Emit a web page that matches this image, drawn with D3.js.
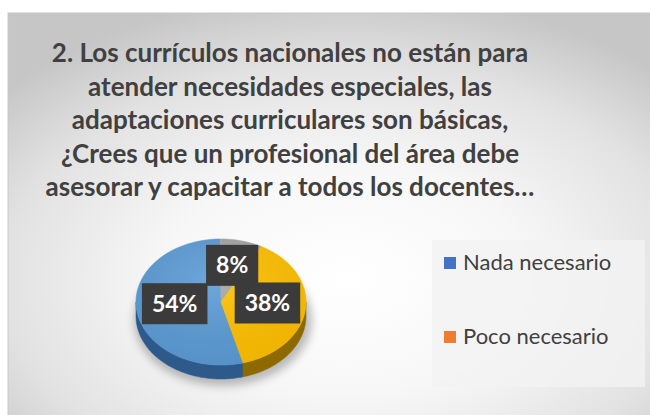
<!DOCTYPE html>
<html><head><meta charset="utf-8">
<script src="https://cdn.jsdelivr.net/npm/d3@7"></script>
<style>html,body{margin:0;padding:0;background:#fff;}svg{display:block;}</style>
</head><body>
<svg id="c" width="650" height="415"></svg>
<script>
const titleLines = [
  "2. Los currículos nacionales no están para",
  "atender necesidades especiales, las",
  "adaptaciones curriculares son básicas,",
  "¿Crees que un profesional del área debe",
  "asesorar y capacitar a todos los docentes…"
];
const categories = ["Nada necesario", "Poco necesario", "Necesario", "Muy necesario"];
const values = [54, 0, 8, 38];
const legendShown = ["Nada necesario", "Poco necesario"];
const topColors = ["#5b9bd5", "#ed7d31", "#a5a5a5", "#ffc000"];
const sideColors = ["#2d5a8a", "#8a4515", "#606060", "#8c6a00"];
const legendColors = ["#4472c4", "#ed7d31", "#a5a5a5", "#ffc000"];

const svg = d3.select("#c");
const defs = svg.append("defs");
const bg = defs.append("radialGradient").attr("id","bg").attr("cx","0.52").attr("cy","0.65").attr("r","0.7");
bg.append("stop").attr("offset","0").attr("stop-color","#ffffff");
bg.append("stop").attr("offset","0.4").attr("stop-color","#f7f7f7");
bg.append("stop").attr("offset","0.75").attr("stop-color","#e2e2e2");
bg.append("stop").attr("offset","1").attr("stop-color","#c6c6c6");
const sh = defs.append("filter").attr("id","sh").attr("x","-30%").attr("y","-30%").attr("width","160%").attr("height","160%");
sh.append("feGaussianBlur").attr("stdDeviation","4");

svg.append("rect").attr("x",8).attr("y",13).attr("width",650).attr("height",410).attr("fill","url(#bg)")
  .attr("stroke","#c8c8c8").attr("stroke-width",1);

// Title
const title = svg.append("text").attr("text-anchor","middle")
  .attr("font-family","Lato, 'Open Sans', sans-serif").attr("font-weight","bold")
  .attr("font-size",26).attr("fill","#404040");
titleLines.forEach((t,i)=>{
  title.append("tspan").attr("x",290).attr("y",62 + i*33.6).text(t);
});

// Pie
const cx = 221, cy = 302, rx = 85, ry = 63, depth = 14;
const deg = Math.PI/180;
const pie = d3.pie().sort(null).value(d=>d.v).startAngle(165*deg).endAngle(525*deg);
const data = categories.map((c,i)=>({c, v: values[i], i}));
const arcs = pie(data).filter(a=>a.data.v>0);
const px = a => cx + rx*Math.sin(a);
const py = (a, dz=0) => cy - ry*Math.cos(a) + dz;

// shadow
svg.append("ellipse").attr("cx",cx+2).attr("cy",cy+depth+4).attr("rx",rx+4).attr("ry",ry+3)
  .attr("fill","rgba(0,0,0,0.25)").attr("filter","url(#sh)");

function sample(a0,a1){
  const n = Math.max(2, Math.ceil(Math.abs(a1-a0)/(1*deg)));
  return d3.range(n+1).map(k=>a0+(a1-a0)*k/n);
}
const sideG = svg.append("g");
arcs.forEach(a=>{
  [[90*deg,270*deg],[450*deg,630*deg]].forEach(([f0,f1])=>{
    const s = Math.max(a.startAngle,f0), e = Math.min(a.endAngle,f1);
    if (e <= s) return;
    const pts = sample(s,e);
    const top = pts.map(t=>[px(t),py(t)]);
    const bot = pts.slice().reverse().map(t=>[px(t),py(t,depth)]);
    sideG.append("path").attr("d", d3.line()(top.concat(bot))+"Z")
      .attr("fill", sideColors[a.data.i]).attr("stroke",sideColors[a.data.i]).attr("stroke-width",0.5);
  });
});
const topG = svg.append("g");
arcs.forEach(a=>{
  const pts = sample(a.startAngle,a.endAngle).map(t=>[px(t),py(t)]);
  topG.append("path").attr("d", d3.line()([[cx,cy]].concat(pts))+"Z")
    .attr("fill", topColors[a.data.i]).attr("stroke", topColors[a.data.i]).attr("stroke-width",0.6);
});
const hl = defs.append("radialGradient").attr("id","hl").attr("cx","0.45").attr("cy","0.35").attr("r","0.7");
hl.append("stop").attr("offset","0").attr("stop-color","#fff").attr("stop-opacity",0.12);
hl.append("stop").attr("offset","1").attr("stop-color","#000").attr("stop-opacity",0.06);
topG.append("ellipse").attr("cx",cx).attr("cy",cy).attr("rx",rx).attr("ry",ry).attr("fill","url(#hl)");

// Labels
const lblG = svg.append("g");
arcs.forEach(a=>{
  const m = (a.startAngle+a.endAngle)/2;
  const lx = cx + rx*0.55*Math.sin(m);
  const ly = cy - ry*0.55*Math.cos(m) - 3;
  const g = lblG.append("g");
  const t = g.append("text").attr("x",lx).attr("y",ly+8).attr("text-anchor","middle")
    .attr("font-family","Lato, 'Open Sans', sans-serif").attr("font-weight","bold").attr("font-size",23)
    .attr("fill","#fff").text(d3.format(".0%")(a.data.v/100));
  const w = t.node().getComputedTextLength();
  g.insert("rect","text").attr("x",lx-w/2-10).attr("y",ly-20.5).attr("width",w+20).attr("height",41)
    .attr("fill","#3b3b3b");
});

// Legend
svg.append("rect").attr("x",432).attr("y",240).attr("width",213).attr("height",147).attr("fill","#f2f2f2").attr("fill-opacity",0.8);
legendShown.forEach((name,k)=>{
  const i = categories.indexOf(name);
  const y = 257 + k*74;
  svg.append("rect").attr("x",444).attr("y",y).attr("width",12).attr("height",12).attr("fill",legendColors[i]);
  svg.append("text").attr("x",463).attr("y",y+12.5).attr("font-family","Lato, 'Open Sans', sans-serif")
    .attr("font-size",22).attr("fill","#404040").text(name);
});
</script>
</body></html>
